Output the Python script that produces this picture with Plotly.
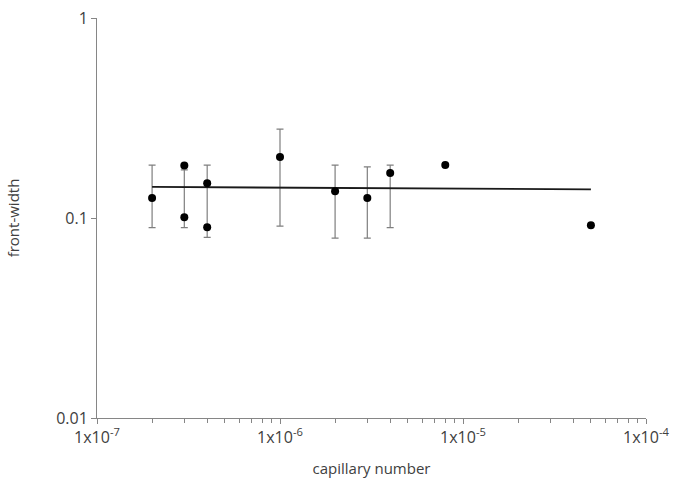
import plotly.graph_objects as go

# Measured data
cap_number = [2e-7, 3e-7, 3e-7, 4e-7, 4e-7, 1e-6, 2e-6, 3e-6, 4e-6, 8e-6, 5e-5]
front_width = [0.126, 0.183, 0.101, 0.149, 0.090, 0.202, 0.136, 0.126, 0.168, 0.184, 0.092]

# Error bars (low/high bounds)
err_x = [2e-7, 3e-7, 4e-7, 1e-6, 2e-6, 3e-6, 4e-6]
err_low = [0.0895, 0.0895, 0.080, 0.091, 0.0794, 0.0794, 0.0895]
err_high = [0.184, 0.174, 0.184, 0.278, 0.184, 0.180, 0.184]

# Trend line
trend_x = [2e-7, 5e-5]
trend_y = [0.143, 0.139]

# Axis ticks
x_tickvals = [1e-7, 1e-6, 1e-5, 1e-4]
x_ticktext = ["1x10<sup>-7</sup>", "1x10<sup>-6</sup>", "1x10<sup>-5</sup>", "1x10<sup>-4</sup>"]
x_minor_tickvals = [m * 10 ** e for e in (-7, -6, -5) for m in range(2, 10)]
y_tickvals = [0.01, 0.1, 1]
y_ticktext = ["0.01", "0.1", "1"]

fig = go.Figure()

fig.add_trace(go.Scatter(
    x=err_x, y=err_low, mode="markers",
    marker=dict(size=1, color="rgba(0,0,0,0)"),
    error_y=dict(type="data", symmetric=False,
                 array=[h - l for h, l in zip(err_high, err_low)],
                 arrayminus=[0] * len(err_low),
                 color="#7f7f7f", thickness=1.2, width=3.5),
    showlegend=False, hoverinfo="skip"))

fig.add_trace(go.Scatter(
    x=trend_x, y=trend_y, mode="lines",
    line=dict(color="#1a1a1a", width=1.8),
    showlegend=False))

fig.add_trace(go.Scatter(
    x=cap_number, y=front_width, mode="markers",
    marker=dict(size=8, color="black"),
    showlegend=False))

axis_font = dict(family="Open Sans, Liberation Sans, sans-serif", size=15, color="#404040")

fig.update_layout(
    width=682, height=483,
    margin=dict(l=97, r=36, t=18, b=65),
    paper_bgcolor="white", plot_bgcolor="white",
    font=axis_font,
    xaxis=dict(
        type="log", range=[-7, -4], automargin=False,
        tickmode="array", tickvals=x_tickvals, ticktext=x_ticktext,
        showgrid=False, zeroline=False,
        showline=True, linecolor="#868686", linewidth=1,
        ticks="outside", ticklen=5, tickcolor="#868686",
        minor=dict(tickmode="array", tickvals=x_minor_tickvals,
                   ticks="outside", ticklen=4, tickcolor="#868686", showgrid=False),
        title=dict(text="capillary number", font=dict(size=15, color="#404040"), standoff=16),
        tickfont=dict(size=16, color="#404040"),
    ),
    yaxis=dict(
        type="log", range=[-2, 0], automargin=False,
        tickvals=y_tickvals, ticktext=y_ticktext,
        showgrid=False, zeroline=False,
        showline=True, linecolor="#868686", linewidth=1,
        ticks="outside", ticklen=5, tickcolor="#868686",
        title=dict(text="front-width", font=dict(size=15, color="#404040"), standoff=32),
        tickfont=dict(size=16, color="#404040"),
    ),
)

fig.write_html("out.html")
